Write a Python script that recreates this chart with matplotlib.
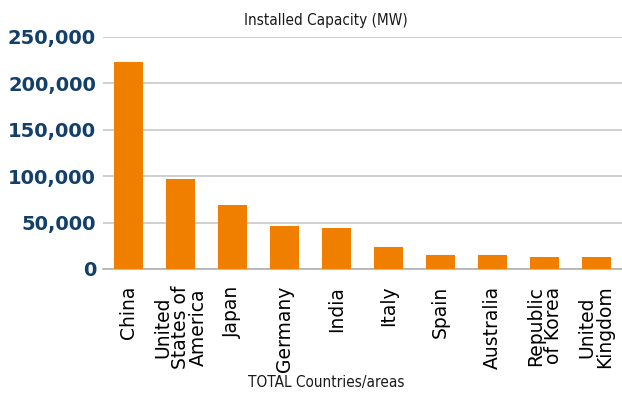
import matplotlib.pyplot as plt
from matplotlib.ticker import FuncFormatter

# data
countries = ["China", "United\nStates of\nAmerica", "Japan", "Germany", "India",
             "Italy", "Spain", "Australia", "Republic\nof Korea", "United\nKingdom"]
capacity_mw = [223000, 97000, 69000, 46300, 44200, 23700, 15100, 15000, 13000, 12900]
yticks = [0, 50000, 100000, 150000, 200000, 250000]

fig = plt.figure(figsize=(6.22, 4.01), dpi=100)
ax = fig.add_axes([103 / 622, 1 - 269 / 401, 1 - 103 / 622, (269 - 37) / 401])

x = range(len(countries))
ax.bar(x, capacity_mw, width=0.56, color="#f07f00", zorder=3)

ax.set_xlim(-0.5, len(countries) - 0.5)
ax.set_ylim(0, 250000)
ax.set_yticks(yticks)
ax.yaxis.set_major_formatter(FuncFormatter(lambda v, p: f"{int(v):,}"))
ax.grid(axis="y", color="#c8c8c8", linewidth=1.2, zorder=0)

for s in ["top", "right", "left"]:
    ax.spines[s].set_visible(False)
ax.spines["bottom"].set_color("#b0b0b0")
ax.spines["bottom"].set_linewidth(1.2)

ax.tick_params(axis="y", length=0, pad=5, labelsize=14, labelcolor="#12406b")
for lab in ax.get_yticklabels():
    lab.set_fontweight("semibold")

ax.set_xticks(list(x))
ax.set_xticklabels(countries, rotation=90, fontsize=13.5, linespacing=0.92,
                   va="top", ha="center")
ax.tick_params(axis="x", length=0, pad=12)

fig.text(326 / 622, 1 - 20 / 401, "Installed Capacity (MW)", ha="center", va="center",
         fontsize=11, fontstretch="condensed", color="#1a1a1a")
fig.text(326 / 622, 1 - 382 / 401, "TOTAL Countries/areas", ha="center", va="center",
         fontsize=11, fontstretch="condensed", color="#1a1a1a")

plt.savefig("out.png", dpi=100)
